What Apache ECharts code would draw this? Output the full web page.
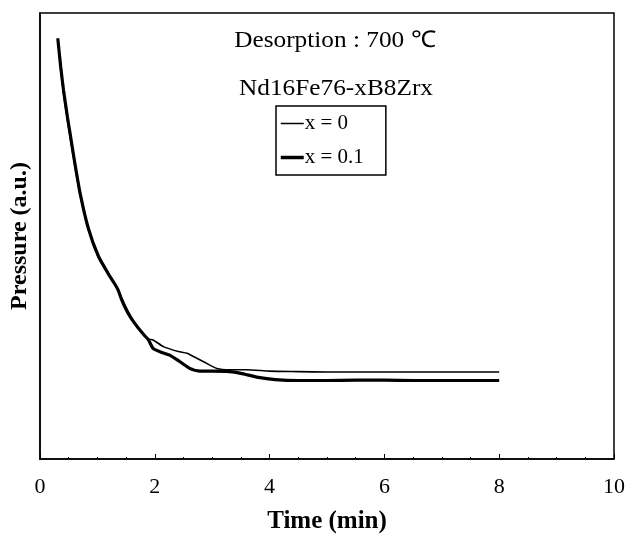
<!DOCTYPE html>
<html>
<head>
<meta charset="utf-8">
<script src="https://cdn.jsdelivr.net/npm/echarts@6/dist/echarts.min.js"></script>
<style>html,body{margin:0;padding:0;background:#fff;}#c{width:628px;height:534px;}</style>
</head>
<body>
<div id="c"></div>
<script>
var titleLine1 = 'Desorption : 700 \u2103';
var titleLine2 = 'Nd16Fe76-xB8Zrx';
var seriesNames = ['x = 0', 'x = 0.1'];
var xTickLabels = ['0', '2', '4', '6', '8', '10'];

var timeX0 = [0.31, 0.36, 0.41, 0.48, 0.52, 0.61, 0.70, 0.84, 1.02, 1.22, 1.30, 1.36, 1.42, 1.50, 1.57, 1.65, 1.74, 1.82, 1.89, 1.97, 2.15, 2.41, 2.56, 2.70, 2.85, 3.08, 3.31, 3.60, 4.00, 4.50, 5.00, 6.00, 7.00, 8.00];
var pressureX0 = [94.3, 87.5, 82.0, 75.8, 72.6, 65.6, 59.2, 51.6, 45.2, 40.8, 39.3, 38.0, 36.2, 34.0, 32.3, 30.6, 29.0, 27.8, 26.9, 26.7, 25.2, 24.1, 23.7, 22.8, 21.8, 20.3, 20.0, 20.0, 19.7, 19.6, 19.5, 19.5, 19.5, 19.5];

var timeX01 = [0.31, 0.36, 0.41, 0.48, 0.52, 0.61, 0.70, 0.84, 1.02, 1.22, 1.30, 1.36, 1.42, 1.50, 1.57, 1.65, 1.74, 1.82, 1.89, 1.97, 2.10, 2.26, 2.44, 2.61, 2.79, 3.00, 3.30, 3.50, 3.80, 4.10, 4.50, 5.00, 5.50, 6.00, 6.50, 7.00, 7.50, 8.00];
var pressureX01 = [94.3, 88.0, 82.7, 76.5, 73.3, 66.1, 59.5, 51.8, 45.4, 40.9, 39.3, 37.9, 35.8, 33.5, 31.9, 30.4, 28.9, 27.7, 26.7, 24.8, 24.0, 23.3, 21.8, 20.3, 19.7, 19.7, 19.6, 19.2, 18.3, 17.8, 17.6, 17.6, 17.7, 17.7, 17.6, 17.6, 17.6, 17.6];

function pairs(xs, ys) { return xs.map(function (x, i) { return [x, ys[i]]; }); }

var serif = 'Liberation Serif, Times New Roman, serif';
var hidden = {color: 'transparent', borderColor: 'transparent', borderWidth: 0, opacity: 0};
var chart = echarts.init(document.getElementById('c'), null, {renderer: 'canvas'});
chart.setOption({
  animation: false,
  backgroundColor: '#fff',
  grid: {left: 40, right: 14, top: 13, bottom: 75, show: true, borderColor: '#000', borderWidth: 1.5,
    backgroundColor: 'transparent', containLabel: false, outerBoundsMode: 'none'},
  graphic: [
    {type: 'text', x: 335, y: 41, scaleX: 1.1, style: {text: titleLine1, font: '23px ' + serif, fill: '#000', textAlign: 'center', textVerticalAlign: 'middle', align: 'center', verticalAlign: 'middle'}},
    {type: 'text', x: 336, y: 89, scaleX: 1.1, style: {text: titleLine2, font: '23px ' + serif, fill: '#000', textAlign: 'center', textVerticalAlign: 'middle', align: 'center', verticalAlign: 'middle'}}
  ],
  legend: {
    data: [
      {name: seriesNames[0], lineStyle: {width: 1.5, color: '#000'}, itemStyle: hidden},
      {name: seriesNames[1], lineStyle: {width: 3.5, color: '#000'}, itemStyle: hidden}
    ],
    orient: 'vertical',
    left: 276, top: 106,
    itemWidth: 23, itemHeight: 14, itemGap: 13,
    padding: [7, 22, 7, 3],
    borderColor: '#000', borderWidth: 1.5,
    backgroundColor: '#fff',
    itemStyle: hidden,
    textStyle: {fontFamily: serif, fontSize: 21, color: '#000', padding: [0, 0, 0, -4]}
  },
  xAxis: {
    type: 'value', min: 0, max: 10, interval: 2,
    name: 'Time (min)', nameLocation: 'middle', nameGap: 50,
    nameTextStyle: {fontFamily: serif, fontSize: 25, fontWeight: 'bold', color: '#000'},
    axisLine: {show: true, lineStyle: {color: '#000', width: 1.5}},
    axisTick: {show: true, inside: true, length: 5, lineStyle: {color: '#000', width: 1}},
    minorTick: {show: true, splitNumber: 4, length: 2, lineStyle: {color: '#000', width: 1}},
    axisLabel: {fontFamily: serif, fontSize: 22, color: '#000', margin: 17,
      formatter: function (v) { return xTickLabels[Math.round(v / 2)]; }},
    splitLine: {show: false}
  },
  yAxis: {
    type: 'value', min: 0, max: 100,
    name: 'Pressure (a.u.)', nameLocation: 'middle', nameGap: 8,
    nameTextStyle: {fontFamily: serif, fontSize: 24, fontWeight: 'bold', color: '#000'},
    axisLine: {show: true, lineStyle: {color: '#000', width: 1.5}},
    axisTick: {show: false},
    axisLabel: {show: false},
    splitLine: {show: false}
  },
  series: [
    {name: seriesNames[0], type: 'line', data: pairs(timeX0, pressureX0), symbol: 'none', smooth: 0.2,
      lineStyle: {color: '#000', width: 1.6}, itemStyle: {color: '#000'}, z: 3},
    {name: seriesNames[1], type: 'line', data: pairs(timeX01, pressureX01), symbol: 'none', smooth: 0.2,
      lineStyle: {color: '#000', width: 3.2}, itemStyle: {color: '#000'}, z: 2}
  ]
});
</script>
</body>
</html>
